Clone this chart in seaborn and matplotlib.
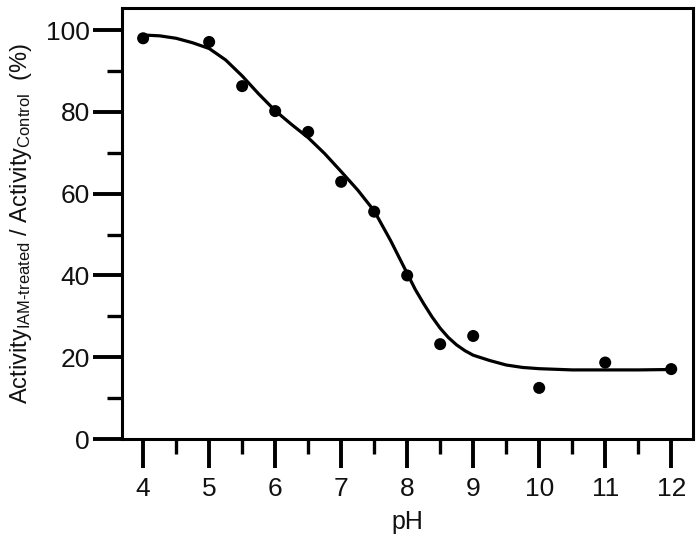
import matplotlib
matplotlib.use("Agg")
import matplotlib.pyplot as plt
import seaborn as sns
import pandas as pd
from matplotlib.ticker import MultipleLocator

# measured points
ph = [4, 5, 5.5, 6, 6.5, 7, 7.5, 8, 8.5, 9, 10, 11, 12]
activity = [98.0, 97.1, 86.3, 80.2, 75.1, 62.9, 55.6, 40.0, 23.2, 25.2, 12.5, 18.7, 17.1]

# fitted curve
fit_ph = [4.0, 4.25, 4.5, 4.75, 5.0, 5.25, 5.5, 5.75, 6.0, 6.25, 6.5, 6.75,
          7.0, 7.25, 7.5, 7.75, 8.0, 8.125, 8.25, 8.375, 8.5, 8.625, 8.75, 8.875,
          9.0, 9.25, 9.5, 9.75, 10.0, 10.5, 11.0, 11.5, 12.0]
fit_act = [98.8, 98.6, 98.0, 96.9, 95.5, 92.7, 88.8, 84.4, 80.3, 76.9, 73.7, 69.8,
           65.4, 60.9, 55.8, 48.5, 40.5, 36.5, 33.1, 29.9, 27.1, 24.8, 23.0, 21.6,
           20.5, 19.2, 18.1, 17.5, 17.2, 16.9, 16.9, 16.9, 17.0]

sns.set_theme(style="ticks")
plt.rcParams['font.family'] = ['Liberation Sans', 'DejaVu Sans']
plt.rcParams['mathtext.fontset'] = 'custom'
plt.rcParams['mathtext.rm'] = 'Liberation Sans'
plt.rcParams['mathtext.it'] = 'Liberation Sans'
plt.rcParams['mathtext.default'] = 'regular'

pts = pd.DataFrame({"pH": ph, "act": activity})
fit = pd.DataFrame({"pH": fit_ph, "act": fit_act})

fig = plt.figure(figsize=(7, 5.42), dpi=100)
ax = fig.add_axes([0.1743, 0.190, 0.8157, 0.7952])

sns.lineplot(data=fit, x="pH", y="act", color="black", linewidth=2.3, ax=ax)
sns.scatterplot(data=pts, x="pH", y="act", color="black", s=75, edgecolor="none", ax=ax, zorder=3)

ax.set_xlim(3.68, 12.33)
ax.set_ylim(0, 105.4)
ax.xaxis.set_major_locator(MultipleLocator(1))
ax.xaxis.set_minor_locator(MultipleLocator(0.5))
ax.yaxis.set_major_locator(MultipleLocator(20))
ax.yaxis.set_minor_locator(MultipleLocator(10))

ax.tick_params(which="major", length=21, width=2.8, color="black", labelsize=19, labelcolor="#111111")
ax.tick_params(which="minor", length=11, width=2.4, color="black")
ax.tick_params(axis="x", which="major", pad=6)
ax.tick_params(axis="y", which="major", pad=2)

for sp in ax.spines.values():
    sp.set_linewidth(2.2)
    sp.set_color("black")

ax.set_xlabel("pH", fontsize=18, labelpad=7, color="#111111")
ax.set_ylabel(r"Activity$_{\text{IAM-treated}}$ / Activity$_{\text{Control}}$  (%)",
              fontsize=17, labelpad=9, color="#111111")

fig.savefig("out.png", dpi=100)
